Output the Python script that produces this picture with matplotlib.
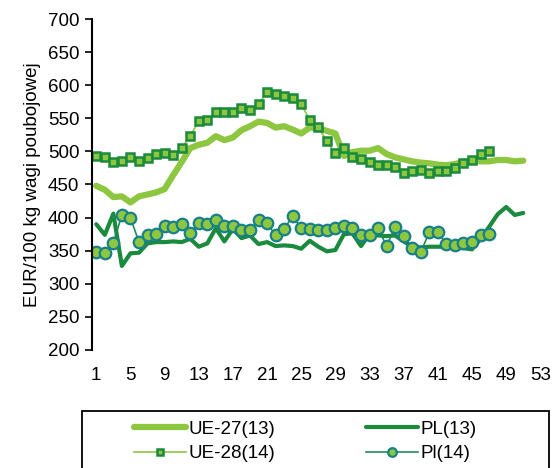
import numpy as np
import matplotlib
matplotlib.use("Agg")
import matplotlib.pyplot as plt
from matplotlib.patches import Rectangle

plt.rcParams['font.family'] = ['Liberation Sans', 'DejaVu Sans']

# weekly prices, EUR/100 kg
ue27_13 = [448, 442, 431, 432, 423, 432, 435, 438, 443, 464, 484, 505, 510, 513, 523, 517, 521,
           532, 538, 545, 543, 536, 538, 533, 527, 536, 535, 531, 527, 493, 499, 501, 501, 505,
           496, 491, 488, 485, 483, 482, 480, 479, 481, 484, 486, 485, 485, 487, 487, 485, 486]
pl_13 = [390, 374, 406, 327, 346, 347, 361, 363, 363, 364, 363, 368, 356, 361, 384, 364, 383,
         369, 373, 360, 363, 357, 358, 357, 353, 365, 356, 349, 351, 375, 376, 357, 375, 373,
         372, 373, 364, 356, 355, 356, 356, 356, 354, 354, 352, 368, 386, 405, 416, 404, 407]
ue28_14 = [493, 492, 484, 486, 491, 485, 490, 496, 498, 494, 505, 523, 546, 548, 559, 560, 560,
           565, 563, 571, 590, 586, 584, 580, 571, 548, 537, 515, 497, 505, 491, 488, 484, 479,
           480, 476, 467, 470, 472, 467, 471, 471, 475, 483, 487, 496, 501]
pi_14 = [348, 347, 362, 404, 400, 363, 374, 375, 388, 386, 390, 376, 392, 390, 396, 388, 388,
         381, 381, 396, 392, 373, 383, 402, 384, 383, 381, 382, 385, 388, 385, 374, 374, 384,
         357, 386, 372, 354, 348, 378, 378, 360, 359, 362, 363, 374, 375]

weeks13 = np.arange(1, len(ue27_13) + 1)
weeks14 = np.arange(1, len(ue28_14) + 1)

light = '#8dc63f'
dark = '#1a8a3c'
teal = '#17808a'
fs = 13.5

fig = plt.figure(figsize=(5.55, 4.68), dpi=100)
ax = fig.add_axes([92 / 555, 1 - 350 / 468, (544.6 - 92) / 555, (350 - 19) / 468])

ax.plot(weeks13, ue27_13, color=light, lw=4.5, solid_capstyle='round', label='UE-27(13)')
ax.plot(weeks13, pl_13, color=dark, lw=3, solid_capstyle='round', label='PL(13)')
ax.plot(weeks14, ue28_14, color=light, lw=1.2, marker='s', ms=5.8, mfc=light, mec=dark,
        mew=1.8, label='UE-28(14)')
ax.plot(weeks14, pi_14, color='#1e8a5a', lw=1.2, marker='o', ms=8.3, mfc=light, mec=teal,
        mew=1.6, label='Pl(14)')

ax.set_xlim(0.5, 53.5)
ax.set_ylim(200, 700)
ax.set_xticks(np.arange(1, 54, 4))
ax.set_yticks(np.arange(200, 701, 50))
ax.tick_params(axis='x', length=0, pad=12.5, labelsize=fs)
ax.tick_params(axis='y', direction='out', length=5, width=1.2, labelsize=fs, pad=4)
for s in ['top', 'right', 'bottom']:
    ax.spines[s].set_visible(False)
ax.spines['left'].set_linewidth(1.5)
ax.set_ylabel('EUR/100 kg wagi poubojowej', fontsize=fs, labelpad=5)

h, l = ax.get_legend_handles_labels()
order = [0, 2, 1, 3]
fig.legend([h[i] for i in order], [l[i] for i in order], ncol=2, frameon=False,
           loc='upper left', bbox_to_anchor=(126 / 555, 1 - 413 / 468),
           handlelength=2.8, handletextpad=0.15, columnspacing=4.8, markerscale=0.75,
           labelspacing=0.4, fontsize=fs, borderaxespad=0)
fig.patches.append(Rectangle((82 / 555, -0.05), (549 - 82) / 555, (1 - 411 / 468) + 0.05,
                             transform=fig.transFigure, fill=False, ec='black', lw=1.3))

fig.savefig('out.png', dpi=100)
